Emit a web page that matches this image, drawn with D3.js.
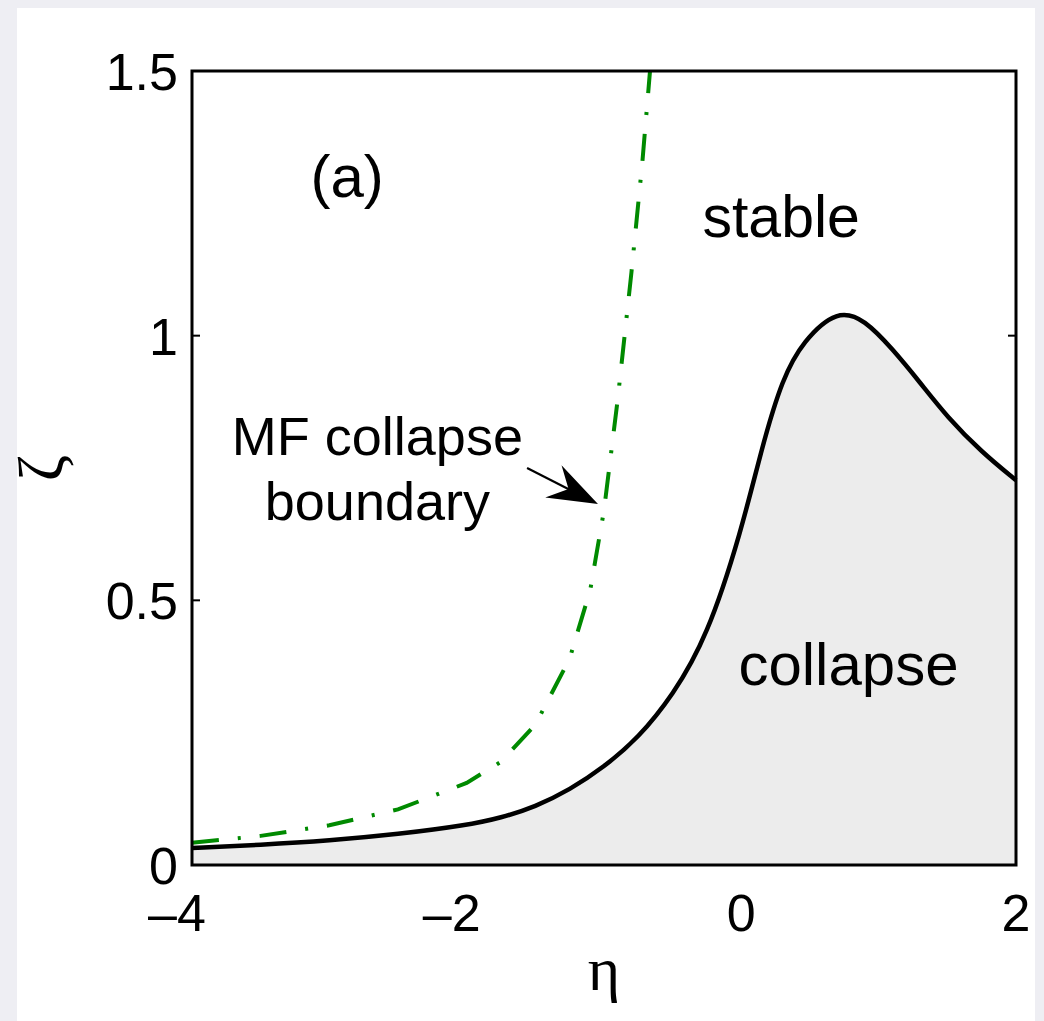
<!DOCTYPE html>
<html>
<head>
<meta charset="utf-8">
<script src="https://cdn.jsdelivr.net/npm/d3@7"></script>
<style>
  html, body { margin: 0; padding: 0; background: #eeeef3; }
  svg { display: block; }
</style>
</head>
<body>
<div id="chart"></div>
<script>
// stability boundary (black, solid) and mean-field collapse boundary (green, dash-dot)
var etaBoundary  = [-4, -3.5, -3, -2.5, -2, -1.75, -1.5, -1.25, -1, -0.75, -0.5, -0.25, 0, 0.15, 0.3, 0.45, 0.7, 0.9, 1.1, 1.3, 1.5, 1.75, 2];
var zetaBoundary = [0.032, 0.038, 0.046, 0.058, 0.075, 0.089, 0.11, 0.142, 0.185, 0.24, 0.32, 0.43, 0.63, 0.79, 0.92, 0.99, 1.05, 1.03, 0.975, 0.912, 0.846, 0.78, 0.727];

var etaMF  = [-4, -3.5, -3, -2.5, -2, -1.75, -1.5, -1.25, -1.1, -1.0, -0.9, -0.8, -0.72, -0.665];
var zetaMF = [0.042, 0.055, 0.075, 0.105, 0.155, 0.195, 0.265, 0.39, 0.52, 0.67, 0.88, 1.12, 1.33, 1.5];

var xTicks = [-4, -2, 0, 2];
var yTicks = [0, 0.5, 1, 1.5];

var width = 1044,
    height = 1021,
    margin = {top: 71, right: 28, bottom: 156, left: 192};

var svg = d3.select('#chart')
  .append('svg')
  .attr('width', width)
  .attr('height', height);

// white figure panel over the grey page
svg.append('rect')
  .attr('x', 17).attr('y', 8)
  .attr('width', 1018).attr('height', height - 8)
  .attr('fill', '#ffffff');

var x = d3.scaleLinear().domain([-4, 2]).range([margin.left, width - margin.right]);
var y = d3.scaleLinear().domain([0, 1.5]).range([height - margin.bottom, margin.top]);

var font = '"Liberation Sans", Arial, Helvetica, sans-serif';

// inward ticks (drawn below the shaded patch, like matlab)
var g = svg.append('g');
yTicks.forEach(function(t) {
  g.append('line').attr('x1', x(-4)).attr('x2', x(-4) + 8).attr('y1', y(t)).attr('y2', y(t))
    .attr('stroke', '#000').attr('stroke-width', 2);
  g.append('line').attr('x1', x(2)).attr('x2', x(2) - 8).attr('y1', y(t)).attr('y2', y(t))
    .attr('stroke', '#000').attr('stroke-width', 2);
});
xTicks.forEach(function(t) {
  g.append('line').attr('x1', x(t)).attr('x2', x(t)).attr('y1', y(0)).attr('y2', y(0) - 8)
    .attr('stroke', '#000').attr('stroke-width', 2);
});

var boundary = etaBoundary.map(function(e, i) { return [e, zetaBoundary[i]]; });
var mf = etaMF.map(function(e, i) { return [e, zetaMF[i]]; });

var smooth = d3.curveBasis;

// collapse region
svg.append('path')
  .datum(boundary)
  .attr('fill', '#ececec')
  .attr('d', d3.area().x(d => x(d[0])).y0(y(0)).y1(d => y(d[1])).curve(smooth));

svg.append('path')
  .datum(boundary)
  .attr('fill', 'none')
  .attr('stroke', '#000')
  .attr('stroke-width', 4.5)
  .attr('d', d3.line().x(d => x(d[0])).y(d => y(d[1])).curve(smooth));

svg.append('path')
  .datum(mf)
  .attr('fill', 'none')
  .attr('stroke', '#008a00')
  .attr('stroke-width', 4)
  .attr('stroke-dasharray', '27,19,3,19')
  .attr('d', d3.line().x(d => x(d[0])).y(d => y(d[1])));

// axes box
svg.append('rect')
  .attr('x', x(-4)).attr('y', y(1.5))
  .attr('width', x(2) - x(-4)).attr('height', y(0) - y(1.5))
  .attr('fill', 'none').attr('stroke', '#000').attr('stroke-width', 3);

// tick labels
svg.selectAll('.ylab').data(yTicks).enter().append('text')
  .attr('class', 'ylab')
  .attr('x', x(-4) - 14)
  .attr('y', d => y(d) + 19)
  .attr('text-anchor', 'end')
  .style('font-family', font).style('font-size', '52px')
  .text(d => d);

svg.selectAll('.xlab').data(xTicks).enter().append('text')
  .attr('class', 'xlab')
  .attr('x', d => x(d) + (d < 0 ? -15 : 0))
  .attr('y', y(0) + 66)
  .attr('text-anchor', 'middle')
  .style('font-family', font).style('font-size', '52px')
  .text(d => d < 0 ? '\u2013' + Math.abs(d) : d);

// axis titles
svg.append('text')
  .attr('x', (x(-4) + x(2)) / 2)
  .attr('y', 990)
  .attr('text-anchor', 'middle')
  .style('font-family', '"Liberation Serif", "DejaVu Serif", serif').style('font-size', '62px')
  .text('\u03b7');

svg.append('text')
  .attr('transform', 'translate(62,' + ((y(0) + y(1.5)) / 2) + ') rotate(-90)')
  .attr('text-anchor', 'middle')
  .style('font-family', '"Liberation Serif", "DejaVu Serif", serif').style('font-size', '64px')
  .text('\u03b6');

// annotations
function note(txt, ex, zy, size) {
  svg.append('text')
    .attr('x', x(ex)).attr('y', y(zy))
    .attr('text-anchor', 'middle')
    .style('font-family', font).style('font-size', size + 'px')
    .text(txt);
}
note('(a)', -2.87, 1.262, 60);
note('stable', 0.29, 1.186, 59);
note('collapse', 0.78, 0.34, 60);
note('MF collapse', -2.65, 0.775, 54);
note('boundary', -2.65, 0.652, 54);

// arrow to the MF curve
var tip = [x(-1.044), y(0.682)], tail = [x(-1.56), y(0.75)];
var ang = Math.atan2(tip[1] - tail[1], tip[0] - tail[0]);
function pt(len, off) {
  return [tip[0] - len * Math.cos(ang) + off * Math.sin(ang),
          tip[1] - len * Math.sin(ang) - off * Math.cos(ang)];
}
svg.append('line')
  .attr('x1', tail[0]).attr('y1', tail[1])
  .attr('x2', pt(30, 0)[0]).attr('y2', pt(30, 0)[1])
  .attr('stroke', '#000').attr('stroke-width', 2.2);
svg.append('path')
  .attr('d', d3.line()([tip, pt(50, 18), pt(33, 0), pt(50, -18)]) + 'Z')
  .attr('fill', '#000');
</script>
</body>
</html>
